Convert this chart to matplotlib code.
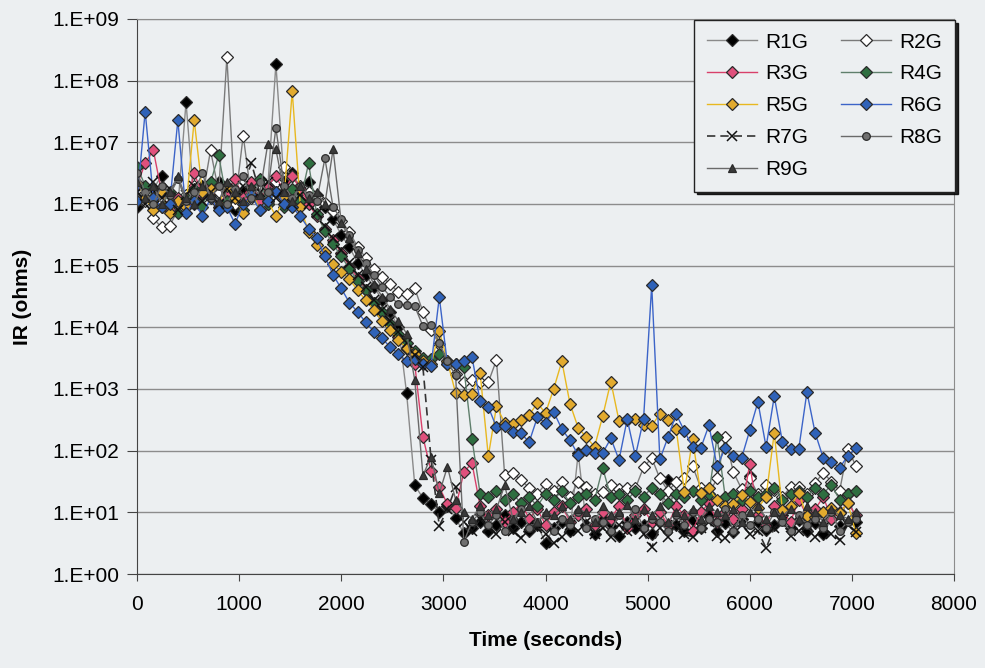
import numpy as np
import matplotlib
matplotlib.use("Agg")
import matplotlib.pyplot as plt
from matplotlib.ticker import FixedLocator, NullLocator, FuncFormatter

# plot configuration
plt.rcParams["font.family"] = ["Liberation Sans", "DejaVu Sans"]
plt.rcParams["font.size"] = 15

# readings every 80 s, values are log10(IR)
TIME_S = np.arange(89) * 80

R1G = [5.95, 6.10, 6.25, 6.45, 6.15, 5.95, 7.65, 6.00, 6.30, 6.20,
       6.35, 6.05, 5.90, 6.20, 6.30, 6.10, 6.25, 8.27, 6.35, 6.50,
       6.20, 6.35, 6.15, 5.95, 5.75, 5.50, 5.30, 5.05, 4.85, 4.65,
       4.45, 4.25, 4.00, 2.93, 1.44, 1.23, 1.13, 1.00, 1.10, 0.91,
       0.66, 0.75, 0.85, 0.70, 0.80, 0.95, 0.75, 0.85, 0.70, 0.80,
       0.50, 0.75, 0.85, 0.70, 1.96, 0.80, 0.65, 0.90, 0.78, 0.62,
       0.85, 0.75, 0.80, 0.65, 1.00, 1.52, 0.80, 0.70, 0.88, 0.75,
       0.95, 0.70, 0.82, 0.68, 0.90, 1.59, 0.85, 0.72, 0.80, 0.95,
       0.75, 0.88, 0.70, 0.82, 0.65, 0.90, 0.78, 1.30, 0.85]
R2G = [6.25, 6.05, 5.77, 5.62, 5.65, 5.90, 6.15, 6.30, 6.10, 6.87,
       6.20, 8.38, 6.00, 7.11, 6.10, 6.30, 6.00, 6.35, 6.60, 6.45,
       6.30, 6.20, 6.11, 6.02, 5.89, 5.72, 5.55, 5.30, 5.13, 4.95,
       4.82, 4.70, 4.57, 4.54, 4.63, 4.25, 3.95, 3.73, 3.40, 3.25,
       3.11, 3.14, 3.11, 3.11, 3.47, 1.60, 1.64, 1.52, 1.40, 1.30,
       1.46, 1.35, 1.49, 1.25, 1.49, 1.41, 1.30, 1.33, 1.45, 1.38,
       1.39, 1.39, 1.73, 1.88, 1.55, 1.35, 1.49, 1.56, 1.75, 1.40,
       1.30, 1.55, 2.22, 1.65, 1.38, 1.55, 1.30, 1.45, 1.36, 1.25,
       1.41, 1.41, 1.30, 1.48, 1.64, 1.50, 1.35, 2.03, 1.75]
R3G = [6.30, 6.66, 6.87, 6.20, 5.90, 6.10, 6.00, 6.50, 6.15, 6.30,
       5.95, 6.20, 6.40, 6.10, 6.35, 6.05, 6.30, 6.45, 6.20, 6.45,
       6.25, 6.00, 5.80, 5.60, 5.42, 5.20, 4.98, 4.80, 4.60, 4.40,
       4.22, 4.05, 3.85, 3.65, 3.40, 2.22, 1.67, 1.41, 1.13, 1.07,
       1.65, 1.80, 1.10, 0.95, 1.05, 0.85, 1.00, 1.15, 0.90, 1.05,
       0.80, 1.00, 1.10, 0.85, 0.95, 1.05, 0.80, 1.00, 0.90, 1.10,
       0.75, 0.95, 1.05, 0.85, 1.00, 0.80, 1.10, 0.95, 0.70, 1.00,
       1.15, 0.85, 1.00, 0.90, 1.05, 1.78, 0.95, 0.80, 1.10, 1.00,
       0.85, 1.20, 0.95, 1.05, 1.25, 0.90, 1.00, 1.15, 0.95]
R4G = [6.60, 6.30, 6.10, 5.95, 6.20, 5.85, 6.10, 6.25, 5.95, 6.35,
       6.79, 6.05, 6.20, 5.90, 6.15, 6.40, 6.00, 6.20, 5.95, 6.25,
       6.05, 6.66, 5.83, 5.57, 5.35, 5.15, 4.95, 4.75, 4.60, 4.40,
       4.25, 4.05, 3.90, 3.75, 3.62, 3.50, 3.48, 3.56, 3.45, 3.40,
       3.35, 2.19, 1.30, 1.25, 1.35, 1.20, 1.30, 1.15, 1.25, 1.10,
       1.30, 1.20, 1.35, 1.15, 1.25, 1.30, 1.20, 1.72, 1.25, 1.30,
       1.20, 1.35, 1.25, 1.40, 1.30, 1.15, 1.30, 1.25, 1.35, 1.20,
       1.30, 2.22, 1.25, 1.30, 1.20, 1.35, 1.25, 1.30, 1.40, 1.20,
       1.30, 1.35, 1.25, 1.40, 1.30, 1.45, 1.20, 1.30, 1.35]
R5G = [6.34, 6.10, 5.90, 6.20, 5.85, 6.05, 5.95, 7.36, 6.20, 6.25,
       6.00, 6.30, 6.10, 5.85, 6.25, 5.90, 6.05, 5.80, 6.10, 7.83,
       5.95, 5.55, 5.33, 5.22, 5.03, 4.90, 4.78, 4.60, 4.44, 4.28,
       4.10, 3.95, 3.80, 3.66, 3.56, 3.46, 3.40, 3.94, 3.45, 2.93,
       2.90, 2.92, 3.26, 1.91, 2.72, 2.45, 2.43, 2.50, 2.58, 2.77,
       2.61, 3.00, 3.45, 2.76, 2.37, 2.22, 2.06, 2.56, 3.12, 2.48,
       2.50, 2.51, 2.42, 2.40, 2.60, 2.50, 2.35, 1.33, 2.19, 1.31,
       1.39, 1.20, 1.10, 1.14, 1.28, 1.17, 1.07, 1.25, 2.29, 1.04,
       1.10, 1.31, 0.94, 0.92, 1.00, 1.07, 0.99, 1.15, 0.66]
R6G = [6.05, 7.50, 6.10, 5.95, 6.00, 7.36, 5.85, 6.05, 5.80, 6.10,
       5.90, 5.95, 5.68, 6.00, 6.15, 5.90, 6.05, 6.20, 6.00, 5.95,
       5.80, 5.60, 5.45, 5.15, 4.85, 4.63, 4.40, 4.25, 4.08, 3.93,
       3.82, 3.68, 3.57, 3.45, 3.48, 3.40, 3.38, 4.49, 3.40, 3.40,
       3.45, 3.52, 2.80, 2.71, 2.38, 2.40, 2.30, 2.28, 2.14, 2.54,
       2.45, 2.63, 2.35, 2.17, 1.93, 2.01, 1.97, 1.96, 2.20, 1.85,
       2.51, 1.91, 2.51, 4.68, 1.86, 2.22, 2.59, 2.32, 2.06, 2.04,
       2.41, 1.75, 2.04, 1.92, 1.88, 2.33, 2.79, 2.06, 2.88, 2.14,
       2.03, 2.03, 2.95, 2.29, 1.88, 1.82, 1.72, 1.92, 2.04]
R7G = [6.20, 6.00, 6.35, 6.10, 6.25, 5.90, 6.15, 6.30, 6.05, 6.20,
       6.00, 6.25, 6.10, 6.30, 6.66, 6.20, 6.35, 6.10, 6.25, 6.00,
       6.15, 6.00, 5.85, 5.65, 5.45, 5.25, 5.05, 4.85, 4.65, 4.45,
       4.28, 4.10, 3.92, 3.75, 3.55, 3.35, 1.85, 0.78, 1.05, 1.41,
       0.85, 0.70, 0.90, 0.75, 0.65, 0.85, 0.70, 0.58, 0.80, 0.75,
       0.65, 0.50, 0.60, 0.80, 0.70, 0.85, 0.65, 0.75, 0.60, 0.80,
       0.70, 0.85, 0.65, 0.44, 0.75, 0.60, 0.80, 0.65, 0.60, 0.75,
       0.85, 0.62, 0.58, 0.75, 0.80, 0.65, 0.70, 0.42, 0.75, 0.85,
       0.62, 0.70, 0.80, 0.60, 0.75, 0.65, 0.55, 0.80, 0.68]
R8G = [6.50, 6.20, 6.00, 6.30, 6.15, 6.40, 6.05, 6.20, 6.50, 6.10,
       6.30, 6.00, 6.25, 6.45, 6.10, 6.35, 6.20, 7.23, 6.30, 6.10,
       6.30, 6.15, 6.05, 6.74, 5.95, 5.75, 5.50, 5.25, 5.05, 4.85,
       4.65, 4.50, 4.38, 4.36, 4.34, 4.02, 4.03, 3.75, 3.45, 3.22,
       0.52, 0.85, 1.00, 0.80, 0.95, 0.70, 0.90, 1.05, 0.75, 0.85,
       0.95, 0.70, 0.90, 0.80, 1.00, 0.75, 0.90, 0.85, 0.70, 0.95,
       0.80, 1.05, 0.75, 0.90, 0.85, 0.70, 0.95, 0.80, 1.00, 0.75,
       0.90, 0.85, 1.05, 0.70, 0.95, 0.80, 0.90, 0.75, 1.00, 0.85,
       0.70, 0.95, 0.80, 0.90, 0.75, 1.00, 0.70, 0.85, 0.90]
R9G = [6.35, 6.10, 6.30, 6.00, 6.20, 6.45, 6.10, 6.00, 6.30, 6.15,
       6.05, 6.35, 6.20, 6.05, 6.30, 6.15, 6.97, 6.89, 6.20, 6.05,
       6.30, 6.10, 6.20, 6.00, 6.89, 5.70, 5.45, 5.20, 4.95, 4.70,
       4.50, 4.30, 4.10, 3.90, 3.14, 1.60, 1.90, 1.31, 1.74, 1.20,
       1.00, 0.90, 1.10, 0.95, 1.05, 1.44, 0.90, 1.00, 1.10, 0.85,
       1.00, 0.95, 1.10, 0.90, 1.05, 1.00, 0.85, 1.10, 0.95, 1.00,
       1.12, 0.90, 1.05, 0.95, 1.10, 0.85, 1.00, 0.95, 1.05, 0.90,
       1.10, 1.00, 0.95, 1.05, 0.85, 1.00, 1.10, 0.90, 1.00, 0.95,
       1.05, 0.90, 1.10, 1.00, 0.85, 1.05, 0.95, 0.90, 1.00]

NAMES = ["R1G", "R2G", "R3G", "R4G", "R5G", "R6G", "R7G", "R8G", "R9G"]
SERIES = [R1G, R2G, R3G, R4G, R5G, R6G, R7G, R8G, R9G]

# line colour, marker, marker face, marker size, line style
STYLES = {
    "R1G": ("#8a8a8a", "D", "#000000", 6.5, "-"),
    "R2G": ("#7a7a7a", "D", "#ffffff", 6.5, "-"),
    "R3G": ("#d8406a", "D", "#e0507c", 6.5, "-"),
    "R4G": ("#5f7f6c", "D", "#2e6e40", 6.5, "-"),
    "R5G": ("#e8b820", "D", "#e2aa2e", 6.5, "-"),
    "R6G": ("#3c64c8", "D", "#2f62b8", 6.5, "-"),
    "R7G": ("#333333", "x", "#000000", 7.5, (0, (5, 3))),
    "R8G": ("#6a6a6a", "o", "#707070", 5.5, "-"),
    "R9G": ("#6a6a6a", "^", "#3a3a3a", 5.5, "-"),
}

BG = "#eceff1"
fig = plt.figure(figsize=(9.85, 6.68), dpi=100, facecolor=BG)
ax = fig.add_axes([137 / 985, 1 - 574 / 668, (954 - 137) / 985, (574 - 19) / 668])
ax.set_facecolor(BG)

handles = {}
for name, vals in zip(NAMES, SERIES):
    lc, mk, mf, ms, ls = STYLES[name]
    y = 10 ** np.array(vals)
    if mk == "x":
        h, = ax.plot(TIME_S, y, color=lc, linestyle=ls, linewidth=1.2, marker=mk,
                     markersize=ms, markeredgecolor="#111111", markeredgewidth=1.1,
                     label=name)
    else:
        h, = ax.plot(TIME_S, y, color=lc, linestyle=ls, linewidth=1.0, marker=mk,
                     markersize=ms, markerfacecolor=mf, markeredgecolor="#2a2a2a",
                     markeredgewidth=0.9, label=name)
    handles[name] = h

ax.set_yscale("log")
ax.set_ylim(1, 1e9)
ax.set_xlim(0, 8000)
ax.yaxis.set_major_locator(FixedLocator([10.0 ** k for k in range(10)]))
ax.yaxis.set_minor_locator(NullLocator())
ax.yaxis.set_major_formatter(FuncFormatter(lambda v, p: "1.E+%02d" % round(np.log10(v))))
ax.set_xticks(range(0, 8001, 1000))

ax.grid(axis="y", color="#8c8c8c", linewidth=1.0)
ax.set_axisbelow(True)
for side in ["top", "right"]:
    ax.spines[side].set_color("#8c8c8c")
for side in ["left", "bottom"]:
    ax.spines[side].set_color("#444444")
ax.tick_params(axis="y", direction="out", length=7, color="#444444", pad=6, labelsize=15)
ax.tick_params(axis="x", direction="out", length=5, color="#444444", pad=10, labelsize=15)

ax.set_xlabel("Time (seconds)", fontweight="bold", fontsize=15, labelpad=12)
ax.set_ylabel("IR (ohms)", fontweight="bold", fontsize=15, labelpad=14)

# legend reads row by row: R1G R2G / R3G R4G / ...
order = ["R1G", "R3G", "R5G", "R7G", "R9G", "R2G", "R4G", "R6G", "R8G"]
leg = ax.legend([handles[n] for n in order], order, ncol=2, loc="upper right",
                bbox_to_anchor=(955 / 985, 1 - 20 / 668),
                bbox_transform=fig.transFigure, borderaxespad=0, fontsize=15,
                handlelength=2.4, handletextpad=0.4, columnspacing=1.6,
                labelspacing=0.62, borderpad=0.6, fancybox=False,
                frameon=True, shadow={"color": "black", "alpha": 0.85})
leg.get_frame().set_facecolor(BG)
leg.get_frame().set_edgecolor("#222222")
leg.get_frame().set_linewidth(1.0)
leg.get_frame().set_alpha(1)

fig.savefig("out.png", dpi=100, facecolor=BG)
